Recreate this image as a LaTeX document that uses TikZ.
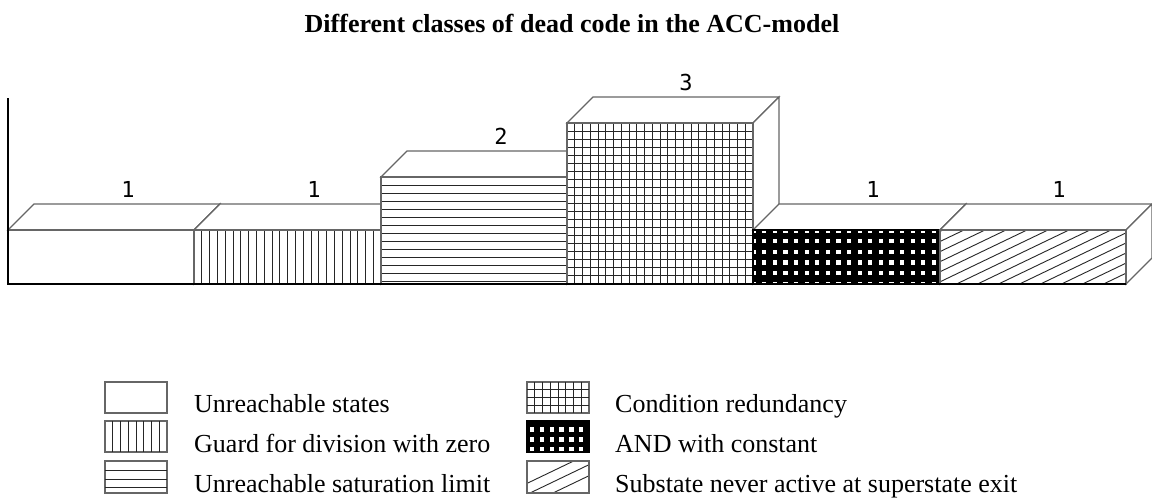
\documentclass[tikz,border=0pt]{standalone}
\usepackage{fontspec}
\setmainfont{Liberation Serif}
\newfontfamily\valfont{DejaVu Sans Mono}
\begin{document}
\begin{tikzpicture}[x=1pt,y=-1pt,
  edge/.style={draw=black!60,line width=1.1pt,line join=miter},
  hatch/.style={draw=black!85,line width=0.9pt},
  face/.style={fill=white,edge},
  value/.style={font=\valfont\fontsize{22}{22}\selectfont,inner sep=0pt,anchor=base},
  legtext/.style={font=\fontsize{26}{30}\selectfont,inner sep=0pt,anchor=base west},
  axisline/.style={draw=black,line width=2.2pt}]
\useasboundingbox (0,0) rectangle (1152,498);

% depth offset of the oblique bars and the floor line
\def\dx{26}\def\dy{26}\def\fl{284}

% one bar: top face and right side face (front face is drawn separately)
\newcommand\barbody[3]{%
  \filldraw[face] (#1,#3) -- ({#1+\dx},{#3-\dy}) -- ({#2+\dx},{#3-\dy}) -- (#2,#3) -- cycle;
  \filldraw[face] (#2,#3) -- ({#2+\dx},{#3-\dy}) -- ({#2+\dx},{\fl-\dy}) -- (#2,\fl) -- cycle;
}

% title
\node[font=\bfseries\fontsize{26}{30}\selectfont,inner sep=0pt,anchor=base] (title) at (572,32)
  {Different classes of dead code in the ACC-model};

% bar 1: unreachable states
\barbody{8}{194}{230}
\filldraw[face] (8,230) rectangle (194,\fl);

% bar 2: guard for division with zero
\barbody{194}{381}{230}
\filldraw[face] (194,230) rectangle (381,\fl);
\begin{scope}
  \clip (194,230) rectangle (381,\fl);
  \foreach \k in {1,...,23} \draw[hatch] ({194+7.8*\k},230) -- ++(0,54);
\end{scope}
\draw[edge] (194,230) rectangle (381,\fl);

% bar 3: unreachable saturation limit
\barbody{381}{567}{177}
\filldraw[face] (381,177) rectangle (567,\fl);
\foreach \k in {1,...,13} \draw[hatch] (381,{177+8*\k}) -- (567,{177+8*\k});
\draw[edge] (381,177) rectangle (567,\fl);

% bar 4: condition redundancy
\barbody{567}{753}{123}
\filldraw[face] (567,123) rectangle (753,\fl);
\foreach \k in {1,...,23} \draw[hatch] ({567+7.75*\k},123) -- ({567+7.75*\k},\fl);
\foreach \k in {1,...,20} \draw[hatch] (567,{123+8*\k}) -- (753,{123+8*\k});
\draw[edge] (567,123) rectangle (753,\fl);

% bar 5: AND with constant
\barbody{753}{940}{230}
\fill[black] (753,230) rectangle (940,\fl);
\begin{scope}
  \clip (753,230) rectangle (940,\fl);
  \foreach \i in {0,...,18} \foreach \j in {0,...,5}
    \fill[white] ({751.5+10.6*\i},{228.3+10.7*\j}) rectangle ++(4.3,4.3);
\end{scope}
\draw[edge,draw=black] (753,230) rectangle (940,\fl);

% bar 6: substate never active at superstate exit
\barbody{940}{1126}{230}
\filldraw[face] (940,230) rectangle (1126,\fl);
\begin{scope}
  \clip (940,230) rectangle (1126,\fl);
  \foreach \k in {-3,...,13} \draw[hatch] ({985+21*\k},230) -- ++(-112.5,54);
\end{scope}
\draw[edge] (940,230) rectangle (1126,\fl);

% axes
\draw[axisline] (8,98) -- (8,\fl) -- (1126,\fl);

% values above the bars
\node[value] (v1) at (128,197) {1};
\node[value] (v2) at (314,197) {1};
\node[value] (v3) at (501,144) {2};
\node[value] (v4) at (686,90.5) {3};
\node[value] (v5) at (873,197) {1};
\node[value] (v6) at (1059,197) {1};

% legend, first column
\draw[edge] (105,382) rectangle (167,413);
\node[legtext] (l1) at (194,412) {Unreachable states};

\draw[edge] (105,421) rectangle (167,452);
\foreach \k in {1,...,7} \draw[hatch] ({105+7.75*\k},421) -- ({105+7.75*\k},452);
\node[legtext] (l2) at (194,452) {Guard for division with zero};

\draw[edge] (105,461) rectangle (167,493);
\foreach \y in {470.5,479.5,487.5} \draw[hatch] (105,\y) -- (167,\y);
\node[legtext] (l3) at (194,492) {Unreachable saturation limit};

% legend, second column
\draw[edge] (527,382) rectangle (589,413);
\foreach \k in {1,...,7} \draw[hatch] ({527+7.75*\k},382) -- ({527+7.75*\k},413);
\foreach \k in {1,2,3} \draw[hatch] (527,{382+7.8*\k}) -- (589,{382+7.8*\k});
\node[legtext] (l4) at (615,412) {Condition redundancy};

\fill[black] (527,421) rectangle (589,452);
\begin{scope}
  \clip (527,421) rectangle (589,452);
  \foreach \i in {0,...,6} \foreach \j in {0,...,3}
    \fill[white] ({530+9.8*\i},{417.3+10*\j}) rectangle ++(4.3,4.3);
\end{scope}
\draw[edge,draw=black] (527,421) rectangle (589,452);
\node[legtext] (l5) at (615,452) {AND with constant};

\draw[edge] (527,461) rectangle (589,493);
\begin{scope}
  \clip (527,461) rectangle (589,493);
  \foreach \k in {0,1,2} \draw[hatch] ({507+23*\k},493) -- ++(100,-48);
\end{scope}
\draw[edge] (527,461) rectangle (589,493);
\node[legtext] (l6) at (615,492) {Substate never active at superstate exit};
\end{tikzpicture}
\end{document}
